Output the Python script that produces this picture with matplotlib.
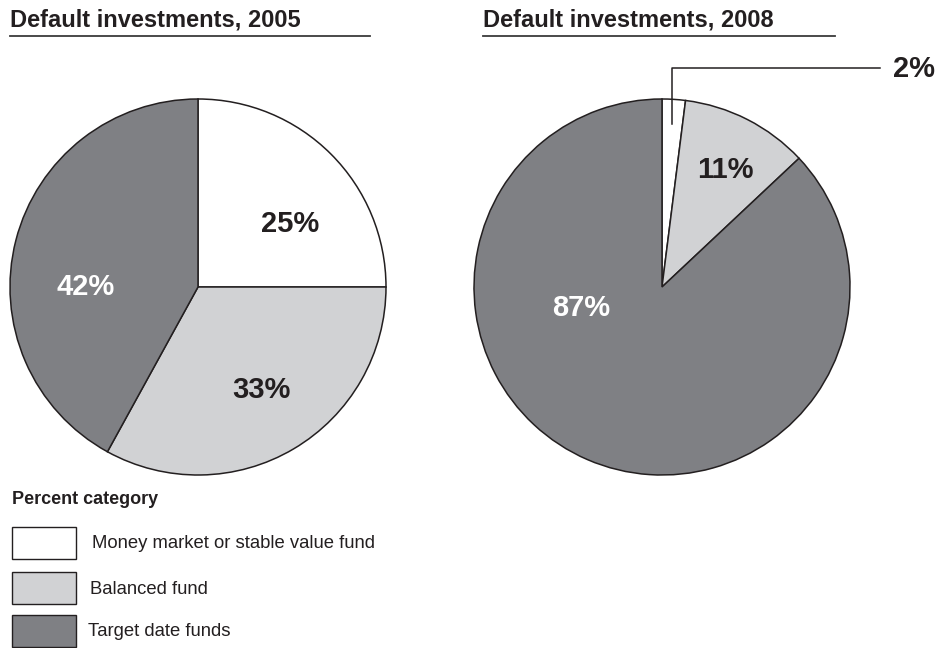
import matplotlib.pyplot as plt
from matplotlib.patches import Rectangle
from matplotlib.lines import Line2D
import numpy as np

W, H = 951, 648

categories = ['Money market or stable value fund', 'Balanced fund', 'Target date funds']
colors = ['#ffffff', '#d1d2d4', '#7f8084']
share_2005 = [25, 33, 42]
share_2008 = [2, 11, 87]
titles = ['Default investments, 2005', 'Default investments, 2008']


def fx(x):
    return x / W


def fy(y):
    return 1 - y / H


fig = plt.figure(figsize=(W / 100, H / 100), dpi=100)
plt.rcParams['font.family'] = ['Liberation Sans', 'DejaVu Sans']
ink = '#231f20'


def pie_axes(cx, cy, r):
    ax = fig.add_axes([fx(cx - r), fy(cy + r), 2 * r / W, 2 * r / H])
    return ax


def draw_pie(ax, values):
    wedges, _ = ax.pie(values, colors=colors, startangle=90, counterclock=False,
                       radius=1, wedgeprops=dict(edgecolor=ink, linewidth=1.1))
    ax.set_xlim(-1, 1)
    ax.set_ylim(-1, 1)
    ax.axis('off')
    return wedges


# 2005 pie
ax1 = pie_axes(198, 287, 188)
draw_pie(ax1, share_2005)
pos1 = [(0.49, 0.335), (0.34, -0.55), (-0.60, 0.0)]
txtcol1 = [ink, ink, 'white']
for v, (x, y), c in zip(share_2005, pos1, txtcol1):
    ax1.text(x, y, f'{v}%', ha='center', va='center', fontsize=21, fontweight='bold',
             color=c)

# 2008 pie
ax2 = pie_axes(662, 287, 188)
draw_pie(ax2, share_2008)
ax2.text(0.335, 0.62, f'{share_2008[1]}%', ha='center', va='center', fontsize=21,
         fontweight='bold', color=ink)
ax2.text(-0.43, -0.11, f'{share_2008[2]}%', ha='center', va='center', fontsize=21,
         fontweight='bold', color='white')
# leader for the small slice
theta = np.deg2rad(90 - share_2008[0] * 3.6 / 2)
x0 = 0.88 * np.cos(theta)
y0 = 0.87 * np.sin(theta)
ax2.plot([x0, x0, 1.16], [y0, 1.165, 1.165], color=ink, lw=1.1, clip_on=False)
ax2.text(1.34, 1.16, f'{share_2008[0]}%', ha='center', va='center', fontsize=21,
         fontweight='bold', color=ink)

# titles with underline
for title, x0p, x1p in zip(titles, [10, 483], [370, 835]):
    fig.text(fx(x0p), fy(20), title, fontsize=17, fontweight='bold', color=ink,
             ha='left', va='center')
    fig.add_artist(Line2D([fx(x0p), fx(x1p)], [fy(36), fy(36)], color='#3a3a3a', lw=1.3))

# legend
fig.text(fx(12), fy(500), 'Percent category', fontsize=13, fontweight='bold',
         color=ink, ha='left', va='center')
box_y = [527, 572, 615]
text_x = [92, 90, 88]
for c, name, by, tx in zip(colors, categories, box_y, text_x):
    fig.add_artist(Rectangle((fx(12), fy(by + 32)), 64 / W, 32 / H, facecolor=c,
                             edgecolor=ink, lw=1.0, transform=fig.transFigure))
    fig.text(fx(tx), fy(by + 17), name, fontsize=13.3, color=ink,
             ha='left', va='center')

fig.savefig('out.png', dpi=100)
